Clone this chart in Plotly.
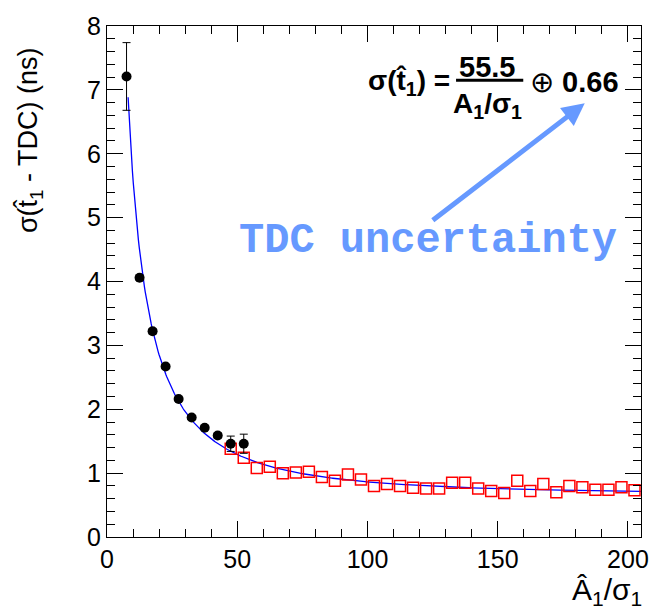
import numpy as np
import plotly.graph_objects as go

# Black points (TDC sample)
black_x = [7.5, 12.5, 17.5, 22.5, 27.5, 32.5, 37.5, 42.5, 47.5, 52.5]
black_y = [7.21, 4.06, 3.22, 2.67, 2.16, 1.87, 1.71, 1.59, 1.46, 1.46]
black_err = [0.53, 0.04, 0.04, 0.03, 0.03, 0.03, 0.03, 0.04, 0.12, 0.15]

# Red open squares
red_x = [47.5, 52.5, 57.5, 62.5, 67.5, 72.5, 77.5, 82.5, 87.5, 92.5, 97.5,
         102.5, 107.5, 112.5, 117.5, 122.5, 127.5, 132.5, 137.5, 142.5, 147.5,
         152.5, 157.5, 162.5, 167.5, 172.5, 177.5, 182.5, 187.5, 192.5, 197.5, 202.5]
red_y = [1.38, 1.24, 1.08, 1.10, 1.00, 1.01, 1.02, 0.94, 0.88, 0.98, 0.90,
         0.80, 0.83, 0.80, 0.77, 0.76, 0.76, 0.85, 0.85, 0.76, 0.72,
         0.69, 0.88, 0.72, 0.83, 0.70, 0.80, 0.78, 0.74, 0.74, 0.78, 0.73]

# Fit parameters (from the chart's formula)
fit_a = 55.5
fit_c = 0.66
fit_xmin, fit_xmax = 8.1, 205.0

x_ticks = [0, 50, 100, 150, 200]
y_ticks = [0, 1, 2, 3, 4, 5, 6, 7, 8]

fx = np.linspace(fit_xmin, fit_xmax, 600)
fy = np.sqrt((fit_a / fx) ** 2 + fit_c ** 2)

FONT = "Liberation Sans, Arial, Helvetica, sans-serif"
ARROWC = "#6699ff"

fig = go.Figure()
fig.add_trace(go.Scatter(x=fx, y=fy, mode="lines",
                         line=dict(color="#0000ff", width=1.3), hoverinfo="skip"))
fig.add_trace(go.Scatter(x=red_x, y=red_y, mode="markers",
                         marker=dict(symbol="square-open", size=11, color="#ff0000",
                                     line=dict(width=1.5, color="#ff0000"))))
fig.add_trace(go.Scatter(x=black_x, y=black_y, mode="markers",
                         marker=dict(symbol="circle", size=10, color="black"),
                         error_y=dict(type="data", array=black_err, color="black",
                                      thickness=1, width=4)))

axis_common = dict(showgrid=False, zeroline=False, showline=True, linecolor="black",
                   linewidth=1, mirror="ticks", ticks="inside", tickcolor="black",
                   tickfont=dict(family=FONT, size=25, color="black"))

fig.update_xaxes(range=[0, 205], tickvals=x_ticks, ticklen=16,
                 minor=dict(ticks="inside", dtick=10, ticklen=8, tickcolor="black"),
                 **axis_common)
fig.update_yaxes(range=[0, 8], tickvals=y_ticks, ticklen=16,
                 minor=dict(ticks="inside", dtick=0.2, ticklen=8, tickcolor="black"),
                 **axis_common)

annots = []
# Axis titles
annots.append(dict(text="σ(t̂<sub>1</sub> - TDC) (ns)", xref="paper", yref="paper",
                   x=-0.143, y=0.776, textangle=-90, showarrow=False,
                   xanchor="center", yanchor="middle",
                   font=dict(family=FONT, size=27, color="black")))
annots.append(dict(text="Â<sub>1</sub>/σ<sub>1</sub>", xref="paper", yref="paper",
                   x=1.005, y=-0.066, showarrow=False, xanchor="right", yanchor="top",
                   font=dict(family=FONT, size=30, color="black")))
# Arrow
annots.append(dict(x=183.4, y=6.79, ax=124.5, ay=4.94, xref="x", yref="y",
                   axref="x", ayref="y", text="", showarrow=True, arrowhead=2,
                   arrowsize=0.9, arrowwidth=5, arrowcolor=ARROWC))
annots.append(dict(text="<b>TDC uncertainty</b>", x=123.2, y=4.63, xref="x", yref="y",
                   showarrow=False, xanchor="center", yanchor="middle",
                   font=dict(family="Liberation Mono, Courier New, monospace", size=42,
                             color=ARROWC)))
# Formula
annots.append(dict(text="<b>σ(t̂<sub>1</sub>) =</b>", x=132.5, y=7.12, xref="x", yref="y",
                   showarrow=False, xanchor="right", yanchor="middle",
                   font=dict(family=FONT, size=28, color="black")))
annots.append(dict(text="<b>55.5</b>", x=145.8, y=7.36, xref="x", yref="y",
                   showarrow=False, xanchor="center", yanchor="middle",
                   font=dict(family=FONT, size=29, color="black")))
annots.append(dict(text="<b>A<sub>1</sub>/σ<sub>1</sub></b>", x=146.2, y=6.76, xref="x", yref="y",
                   showarrow=False, xanchor="center", yanchor="middle",
                   font=dict(family=FONT, size=28, color="black")))
annots.append(dict(text="⊕ <b>0.66</b>", x=161.8, y=7.13, xref="x", yref="y",
                   showarrow=False, xanchor="left", yanchor="middle",
                   font=dict(family=FONT, size=29, color="black")))
fig.update_layout(annotations=annots)
fig.add_shape(type="line", x0=134.0, x1=159.8, y0=7.15, y1=7.15, xref="x", yref="y",
              line=dict(color="black", width=3))

fig.update_layout(width=661, height=612, showlegend=False,
                  margin=dict(l=107, r=14, t=19, b=75),
                  paper_bgcolor="white", plot_bgcolor="white")

fig.write_html("out.html")
